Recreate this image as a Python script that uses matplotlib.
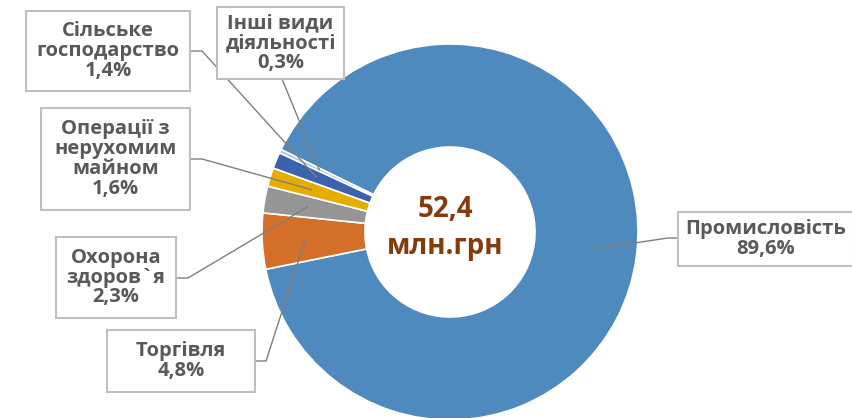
import numpy as np
import matplotlib.pyplot as plt
from matplotlib.patches import Rectangle

# data
categories = ["Промисловість", "Торгівля", "Охорона\nздоров`я",
              "Операції з\nнерухомим\nмайном", "Сільське\nгосподарство",
              "Інші види\nдіяльності"]
shares = [89.6, 4.8, 2.3, 1.6, 1.4, 0.3]
pct_labels = ["89,6%", "4,8%", "2,3%", "1,6%", "1,4%", "0,3%"]
total_label = "52,4\nмлн.грн"
colors = ["#4F8ABE", "#D46F2A", "#959595", "#E5AD00", "#3B63AD", "#A3C2E3"]

W, H = 853, 418
CX, CY, R, HOLE = 450, H - 232, 188, 85

# label boxes in pixel layout (x0, y_top, x1, y_bottom) and leader anchors
boxes = [(678, 212, 853, 266), (107, 330, 255, 392), (56, 237, 176, 318),
         (41, 108, 190, 210), (26, 11, 190, 91), (217, 7, 344, 79)]
anchors = [[(678, 238), (668, 238)], [(255, 361), (266, 361)],
           [(176, 278), (188, 278)], [(190, 159), (202, 159)],
           [(190, 51), (202, 51)], [(282, 79)]]

fig = plt.figure(figsize=(W / 100, H / 100), dpi=100)
ax = fig.add_axes([0, 0, 1, 1])
ax.set_xlim(0, W)
ax.set_ylim(0, H)
ax.set_aspect("equal")
ax.axis("off")

explode = [0] + [0.025] * 5
wedges, _ = ax.pie(shares, colors=colors, startangle=154, counterclock=False,
                   center=(CX, CY), radius=R, explode=explode,
                   wedgeprops=dict(width=R - HOLE, edgecolor="white", linewidth=1.2))
ax.set_xlim(0, W)
ax.set_ylim(0, H)

ax.text(CX - 5, CY + 4, total_label, ha="center", va="center", fontsize=20,
        fontweight="bold", color="#843C0C", family="Open Sans", linespacing=1.35)

for w, cat, pct, box, anc, ex in zip(wedges, categories, pct_labels, boxes, anchors, explode):
    mid = np.deg2rad((w.theta1 + w.theta2) / 2)
    off = ex * R
    px = CX + (140 + off) * np.cos(mid)
    py = CY + (140 + off) * np.sin(mid)
    pts = [(x, H - y) for x, y in anc] + [(px, py)]
    xs, ys = zip(*pts)
    ax.plot(xs, ys, color="#7F7F7F", lw=1.0, zorder=3)
    x0, yt, x1, yb = box
    ax.add_patch(Rectangle((x0, H - yb), x1 - x0, yb - yt, facecolor="white",
                           edgecolor="#BFBFBF", lw=1.5, zorder=4))
    ax.text((x0 + x1) / 2, H - (yt + yb) / 2, cat + "\n" + pct, ha="center",
            va="center", fontsize=14.5, fontweight="bold", color="#595959",
            family="Open Sans", linespacing=0.98, zorder=5)

fig.savefig("out.png", dpi=100)
